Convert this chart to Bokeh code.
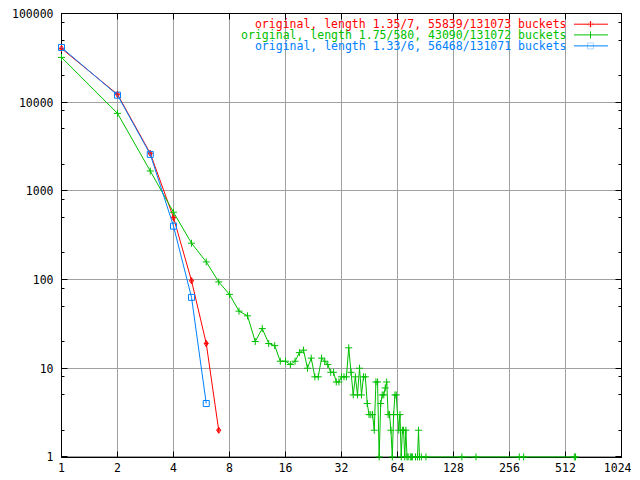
from bokeh.plotting import figure
from bokeh.models import (FixedTicker, LogAxis, Label, Arrow, BoxAnnotation,
                          PolyAnnotation, Range1d, PrintfTickFormatter)
from bokeh.embed import file_html
from bokeh.resources import INLINE

# ---- data (chain length -> number of buckets) ----
red_len = [1, 2, 3, 4, 5, 6, 7]
red_cnt = [40300, 12250, 2650, 500, 97, 19, 2]

green_len = [1, 2, 3, 4, 5, 6, 7, 8, 9, 10, 11, 12, 13, 14, 15, 16, 17, 18, 19, 20,
             21, 22, 23, 24, 25, 26, 27, 28, 29, 30, 31, 32, 33, 34, 35, 36, 37, 38, 39, 40,
             41, 42, 43, 44, 45, 46, 47, 48, 49, 50, 51, 52, 53, 54, 55, 56, 57, 58, 59, 60,
             61, 62, 63, 64, 65, 66, 67, 68, 69, 70, 71, 72, 73, 75, 76, 77, 80, 82, 83, 84,
             86, 91, 142, 169, 289, 305, 571, 580]
green_cnt = [32000, 7480, 1675, 574, 257, 158, 94, 68, 44, 39, 20, 28, 19, 18, 12, 12, 11, 12, 15, 16,
             10, 13, 8, 8, 13, 12, 11, 9, 9, 7, 7, 8, 8, 8, 17, 9, 5, 8, 5, 10,
             5, 8, 8, 4, 3, 3, 3, 2, 7, 7, 1, 4, 5, 5, 6, 7, 3, 3, 2, 1,
             3, 5, 5, 3, 2, 3, 1, 2, 2, 1, 2, 1, 1, 1, 1, 1, 1, 1, 2, 1,
             1, 1, 1, 1, 1, 1, 1, 1]

blue_len = [1, 2, 3, 4, 5, 6]
blue_cnt = [41400, 12000, 2580, 400, 63, 4]

legend_labels = ["original, length 1.35/7, 55839/131073 buckets",
                 "original, length 1.75/580, 43090/131072 buckets",
                 "original, length 1.33/6, 56468/131071 buckets"]

x_ticks = [1, 2, 4, 8, 16, 32, 64, 128, 256, 512, 1024]
y_ticks = [1, 10, 100, 1000, 10000, 100000]
y_minor = [m * 10 ** k for k in range(5) for m in (2, 5, 8)]

RED, GREEN, BLUE = "#ff0000", "#00c000", "#0080ff"
FONT = "DejaVu Sans Mono"
FSIZE = "11.5px"

p = figure(x_axis_type="log", y_axis_type="log",
           x_range=Range1d(1, 1024), y_range=Range1d(0.985, 100000),
           frame_width=560, frame_height=444,
           min_border_left=61, min_border_top=13, min_border_right=10, min_border_bottom=19,
           output_backend="svg", toolbar_location=None)
p.background_fill_color = "white"
p.border_fill_color = "white"
p.outline_line_color = "black"
p.outline_line_width = 1

xt = FixedTicker(ticks=x_ticks, minor_ticks=[])
yt = FixedTicker(ticks=y_ticks, minor_ticks=y_minor)

def style_axis(ax, labels=True):
    ax.axis_line_color = "black"
    ax.major_tick_line_color = "black"
    ax.minor_tick_line_color = "black"
    ax.major_tick_in = 6
    ax.major_tick_out = 0
    ax.minor_tick_in = 3
    ax.minor_tick_out = 0
    ax.major_label_text_font = FONT
    ax.major_label_text_color = "black"
    if labels:
        ax.major_label_text_font_size = FSIZE
        ax.formatter = PrintfTickFormatter(format="%d")
    else:
        ax.major_label_text_font_size = "0px"
        ax.major_label_standoff = 0
        ax.formatter = PrintfTickFormatter(format=" ")

p.xaxis.ticker = xt
p.yaxis.ticker = yt
style_axis(p.xaxis[0])
style_axis(p.yaxis[0])
p.xaxis.major_label_standoff = 5
p.yaxis.major_label_standoff = 8

top = LogAxis(ticker=xt)
style_axis(top, labels=False)
p.add_layout(top, "above")
right = LogAxis(ticker=yt)
style_axis(right, labels=False)
p.add_layout(right, "right")

p.xgrid.ticker = xt
p.ygrid.ticker = yt
p.xgrid.grid_line_color = "#a0a0a0"
p.ygrid.grid_line_color = "#a0a0a0"

# ---- series ----
rs = []
rs.append(p.line(red_len, red_cnt, line_color=RED, line_width=1))
rs.append(p.scatter(red_len, red_cnt, marker="diamond_cross", size=6, line_color=RED, fill_color=None))
rs.append(p.line(green_len, green_cnt, line_color=GREEN, line_width=1))
rs.append(p.scatter(green_len, green_cnt, marker="cross", size=7, line_color=GREEN))
rs.append(p.line(blue_len, blue_cnt, line_color=BLUE, line_width=1))
rs.append(p.scatter(blue_len, blue_cnt, marker="square", size=6, line_color=BLUE, fill_color=None))
for r in rs:
    r.level = "overlay"

# ---- legend (gnuplot style: text, then sample) ----
rows_y = [433.3, 422.6, 411.6]
colors = [RED, GREEN, BLUE]
text_right = 505
s0, s1, sm = 512.5, 546.5, 529
for lab, yy, c in zip(legend_labels, rows_y, colors):
    p.add_layout(Label(x=text_right, y=yy, x_units="screen", y_units="screen", text=lab,
                       text_font=FONT, text_font_size=FSIZE, text_color=c,
                       text_align="right", text_baseline="middle"))
    p.add_layout(Arrow(x_start=s0, y_start=yy, x_end=s1, y_end=yy,
                       start_units="screen", end_units="screen", end=None,
                       line_color=c, line_width=1))
# red diamond-cross sample
yy = rows_y[0]
p.add_layout(PolyAnnotation(xs=[sm - 3, sm, sm + 3, sm], ys=[yy, yy + 3, yy, yy - 3],
                            xs_units="screen", ys_units="screen",
                            fill_alpha=0, line_color=RED, line_width=1))
p.add_layout(Arrow(x_start=sm, y_start=yy - 3, x_end=sm, y_end=yy + 3,
                   start_units="screen", end_units="screen", end=None, line_color=RED))
# green cross sample
yy = rows_y[1]
p.add_layout(Arrow(x_start=sm, y_start=yy - 3.5, x_end=sm, y_end=yy + 3.5,
                   start_units="screen", end_units="screen", end=None, line_color=GREEN))
# blue square sample
yy = rows_y[2]
p.add_layout(BoxAnnotation(left=sm - 3, right=sm + 3, bottom=yy - 3, top=yy + 3,
                           left_units="screen", right_units="screen",
                           bottom_units="screen", top_units="screen",
                           fill_alpha=0, line_color=BLUE, line_width=1))

open("out.html", "w").write(file_html(p, INLINE))
